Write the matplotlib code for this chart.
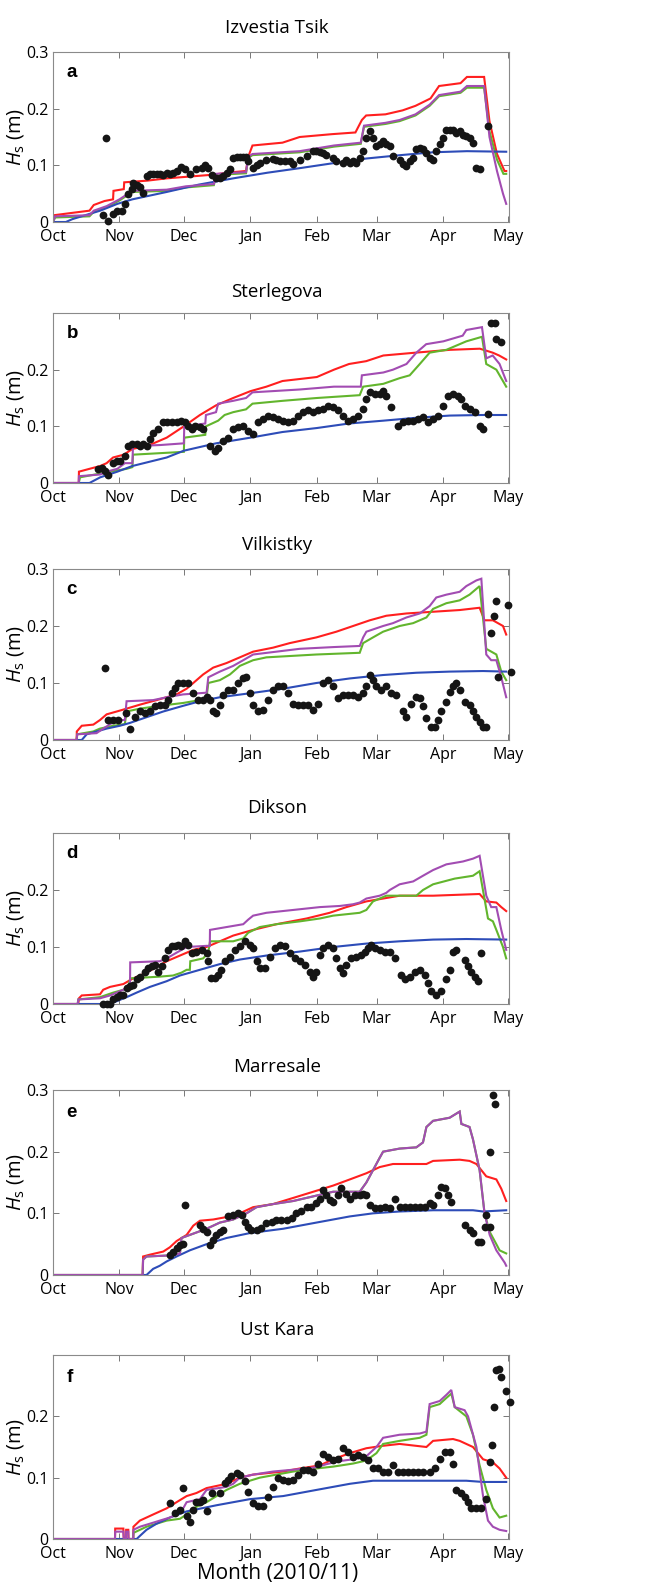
import matplotlib
matplotlib.use('Agg')
import matplotlib.pyplot as plt

plt.rcParams['font.family'] = ['Open Sans', 'DejaVu Sans']
plt.rcParams['mathtext.fontset'] = 'custom'
plt.rcParams['mathtext.rm'] = 'Open Sans'
plt.rcParams['mathtext.it'] = 'Open Sans:italic'

# x axis = days since 1 Oct 2010
months = ['Oct', 'Nov', 'Dec', 'Jan', 'Feb', 'Mar', 'Apr', 'May']
month_day = [0, 31, 61, 92, 123, 151, 182, 212]
stations = ['Izvestia Tsik', 'Sterlegova', 'Vilkistky', 'Dikson', 'Marresale', 'Ust Kara']
letters = ['a', 'b', 'c', 'd', 'e', 'f']

# ---------------- a: Izvestia Tsik ----------------
a_red = [(0.5, 0.012), (17, 0.02), (19, 0.03), (24, 0.037), (28, 0.04), (28.2, 0.055), (33, 0.058), (33.2, 0.07),
         (44, 0.073), (53, 0.077), (73, 0.083), (84, 0.088), (90, 0.09), (91, 0.115), (93, 0.135), (107, 0.14),
         (115, 0.15), (130, 0.155), (141, 0.158), (144, 0.18), (146, 0.188), (155, 0.19), (163, 0.197), (169, 0.205),
         (176, 0.218), (180, 0.24), (190, 0.245), (193, 0.256), (201, 0.256), (203.5, 0.178), (207, 0.12),
         (210.5, 0.09), (211.3, 0.09)]
a_green = [(0, 0.0), (1, 0.008), (17, 0.01), (19, 0.018), (25, 0.026), (31, 0.038), (37, 0.053), (53, 0.055),
           (62, 0.061), (75, 0.065), (76, 0.083), (90, 0.086), (91, 0.113), (93, 0.118), (115, 0.123), (123, 0.128),
           (131, 0.133), (143.5, 0.138), (145, 0.168), (155, 0.173), (161.6, 0.178), (169, 0.188), (175.6, 0.205),
           (180, 0.222), (190, 0.228), (193, 0.237), (201, 0.237), (203.5, 0.16), (207, 0.11), (210, 0.085),
           (211.3, 0.085)]
a_purple = [(0, 0.0), (1, 0.01), (17, 0.012), (19, 0.02), (25, 0.028), (31, 0.04), (37, 0.055), (53, 0.057),
            (62, 0.063), (75, 0.067), (76, 0.085), (90, 0.088), (91, 0.115), (93, 0.12), (115, 0.125), (123, 0.13),
            (131, 0.135), (143.5, 0.14), (145, 0.17), (155, 0.175), (161.6, 0.18), (169, 0.19), (175.6, 0.207),
            (180, 0.224), (190, 0.23), (193, 0.24), (201, 0.24), (203.5, 0.15), (207, 0.09), (209.8, 0.05),
            (211.3, 0.032)]
a_blue = [(0, 0.0), (6, 0.0), (9, 0.005), (22, 0.02), (30, 0.032), (37, 0.04), (53, 0.053), (68, 0.066),
          (84, 0.077), (100, 0.087), (115, 0.095), (131, 0.104), (146, 0.112), (162, 0.118), (177, 0.123),
          (193, 0.125), (211.3, 0.124)]
a_dot_day = [24.7, 23.4, 25.8, 28.1, 29.7, 32.0, 33.5, 35.1, 36.6, 37.4,
             39.0, 40.5, 42.1, 43.6, 45.2, 46.7, 48.3, 49.8, 51.4, 53.0,
             54.5, 56.0, 57.6, 59.9, 61.5, 63.8, 66.9, 69.3, 70.8, 72.4,
             73.9, 76.2, 77.8, 79.3, 80.9, 82.5, 84.0, 85.6, 87.1, 88.7,
             90.2, 91.0, 93.3, 94.9, 96.4, 99.5, 102.6, 104.2, 105.7, 108.0,
             110.4, 112.0, 115.0, 118.2, 121.3, 122.8, 124.4, 125.9, 127.5, 130.6,
             132.1, 135.2, 136.8, 138.4, 139.9, 141.5, 143.0, 144.6, 146.1, 147.7,
             149.2, 150.8, 152.3, 153.9, 155.4, 157.0, 158.5, 161.6, 163.2, 164.8,
             166.3, 167.9, 169.4, 171.0, 172.5, 174.1, 175.6, 177.2, 178.7, 180.3,
             181.8, 183.4, 184.9, 186.5, 188.0, 189.6, 191.1, 192.7, 194.2, 195.8,
             197.4, 198.9, 202.8]
a_dot_hs = [0.149, 0.012, 0.002, 0.015, 0.02, 0.02, 0.032, 0.05, 0.058, 0.068,
            0.066, 0.061, 0.052, 0.081, 0.085, 0.085, 0.084, 0.085, 0.083, 0.086,
            0.085, 0.086, 0.09, 0.097, 0.093, 0.085, 0.093, 0.095, 0.1, 0.096,
            0.083, 0.077, 0.077, 0.081, 0.087, 0.093, 0.113, 0.115, 0.115, 0.115,
            0.114, 0.108, 0.096, 0.1, 0.105, 0.11, 0.112, 0.109, 0.108, 0.107,
            0.108, 0.103, 0.109, 0.116, 0.125, 0.125, 0.124, 0.122, 0.118, 0.113,
            0.108, 0.105, 0.11, 0.105, 0.108, 0.104, 0.113, 0.125, 0.148, 0.16,
            0.148, 0.134, 0.137, 0.143, 0.137, 0.134, 0.116, 0.11, 0.102, 0.099,
            0.108, 0.113, 0.128, 0.131, 0.128, 0.122, 0.113, 0.109, 0.125, 0.137,
            0.148, 0.163, 0.163, 0.162, 0.157, 0.16, 0.154, 0.151, 0.148, 0.14,
            0.096, 0.093, 0.169]

# ---------------- b: Sterlegova ----------------
b_red = [(0, 0.0), (12, 0.0), (12.1, 0.02), (17, 0.025), (22, 0.03), (25, 0.035), (28, 0.045), (33, 0.05),
         (37, 0.06), (45, 0.067), (53, 0.08), (61, 0.1), (68.5, 0.12), (76, 0.137), (84, 0.15), (92, 0.162),
         (99.5, 0.17), (107, 0.18), (123, 0.187), (131, 0.2), (138, 0.21), (146, 0.215), (154, 0.225),
         (169, 0.23), (185, 0.235), (199, 0.237), (205, 0.23), (208, 0.225), (211.3, 0.218)]
b_green = [(0, 0.0), (12, 0.0), (12.6, 0.01), (26.6, 0.02), (34.3, 0.025), (37, 0.028), (37.3, 0.05), (61, 0.055),
           (61.2, 0.08), (71, 0.085), (71.3, 0.1), (77, 0.11), (80, 0.12), (84, 0.125), (90, 0.13), (93, 0.14),
           (107, 0.145), (123, 0.15), (143, 0.155), (144.6, 0.17), (154, 0.175), (161.6, 0.185), (166.3, 0.19),
           (171, 0.21), (175.6, 0.23), (183.4, 0.235), (192.7, 0.25), (200, 0.258), (202, 0.21), (206.7, 0.2),
           (211.3, 0.17)]
b_purple = [(0, 0.0), (12, 0.0), (12.1, 0.012), (22, 0.015), (25, 0.02), (30, 0.025), (33.5, 0.035), (37, 0.035),
            (37.3, 0.065), (50, 0.067), (61, 0.07), (61.2, 0.1), (71, 0.105), (71.3, 0.12), (76, 0.125),
            (77, 0.14), (84, 0.145), (90, 0.15), (93, 0.16), (115, 0.165), (131, 0.17), (143.5, 0.17),
            (144, 0.19), (154, 0.195), (158.5, 0.2), (164.8, 0.21), (169.4, 0.23), (174, 0.245), (182, 0.25),
            (191, 0.26), (192.7, 0.27), (200, 0.275), (202, 0.22), (205, 0.225), (208.2, 0.21), (211.3, 0.18)]
b_blue = [(0, 0.0), (17, 0.0), (22, 0.01), (30, 0.02), (37, 0.03), (53, 0.045), (61, 0.057), (76, 0.07),
          (92, 0.08), (107, 0.09), (123, 0.097), (138, 0.105), (154, 0.11), (169, 0.115), (185, 0.119),
          (200, 0.12), (211.3, 0.12)]
b_dot_day = [21.0, 22.7, 24.2, 25.8, 28.1, 29.7, 31.2, 33.5, 35.1, 36.6,
             39.0, 40.5, 42.1, 43.6, 45.2, 46.7, 49.0, 51.4, 53.0, 55.3,
             57.6, 59.9, 61.5, 63.0, 64.6, 66.1, 68.5, 70.0, 73.1, 75.5,
             77.0, 79.3, 81.7, 84.0, 86.3, 88.7, 91.0, 93.3, 95.7, 98.0,
             100.3, 102.6, 105.0, 107.3, 109.6, 112.0, 114.3, 116.6, 118.9, 121.3,
             123.6, 125.9, 128.3, 130.6, 132.9, 135.2, 137.6, 139.9, 142.2, 144.6,
             146.1, 147.7, 150.0, 152.3, 153.9, 155.4, 157.8, 160.9, 163.2, 165.5,
             167.9, 170.2, 172.5, 174.8, 177.2, 179.5, 181.8, 184.1, 186.5, 188.8,
             190.4, 191.9, 194.2, 196.6, 198.9, 200.5, 202.8, 204.3, 205.9, 206.7,
             208.7]
b_dot_hs = [0.024, 0.027, 0.021, 0.015, 0.036, 0.039, 0.039, 0.047, 0.065, 0.068,
            0.068, 0.065, 0.068, 0.065, 0.077, 0.089, 0.095, 0.107, 0.107, 0.107,
            0.107, 0.11, 0.107, 0.101, 0.095, 0.101, 0.098, 0.095, 0.065, 0.056,
            0.062, 0.074, 0.08, 0.095, 0.098, 0.101, 0.092, 0.086, 0.107, 0.113,
            0.119, 0.116, 0.113, 0.11, 0.107, 0.11, 0.119, 0.125, 0.128, 0.126,
            0.128, 0.131, 0.136, 0.134, 0.128, 0.119, 0.11, 0.113, 0.119, 0.131,
            0.148, 0.16, 0.157, 0.157, 0.163, 0.154, 0.134, 0.101, 0.107, 0.11,
            0.11, 0.113, 0.116, 0.107, 0.113, 0.119, 0.136, 0.154, 0.157, 0.154,
            0.148, 0.136, 0.131, 0.125, 0.101, 0.095, 0.122, 0.282, 0.282, 0.255,
            0.249]

# ---------------- c: Vilkistky ----------------
c_red = [(0, 0.0), (11, 0.0), (11.1, 0.015), (13.4, 0.025), (18.8, 0.027), (21.9, 0.035), (25, 0.045),
         (29.7, 0.05), (34.3, 0.055), (40.5, 0.062), (48.3, 0.07), (57.6, 0.08), (62.3, 0.09), (65.4, 0.1),
         (70, 0.115), (74.7, 0.127), (80.9, 0.135), (87.1, 0.145), (93.3, 0.155), (102.6, 0.162), (110.4, 0.17),
         (122.8, 0.18), (132.1, 0.19), (139.9, 0.2), (147.7, 0.21), (155.4, 0.218), (164.8, 0.222),
         (177.2, 0.225), (189.6, 0.228), (198.9, 0.232), (201.2, 0.21), (205.1, 0.21), (209.8, 0.2),
         (211.3, 0.185)]
c_green = [(0, 0.0), (11, 0.0), (11.3, 0.01), (18.8, 0.015), (21.9, 0.02), (28.1, 0.025), (33.5, 0.028),
           (34.3, 0.05), (40.5, 0.055), (49.8, 0.06), (60.7, 0.065), (68.5, 0.07), (71.6, 0.075), (72.4, 0.1),
           (77.8, 0.105), (82.5, 0.115), (87.1, 0.13), (93.3, 0.14), (99.5, 0.145), (122.8, 0.15), (143, 0.153),
           (144.6, 0.17), (149.2, 0.18), (153.9, 0.19), (161.6, 0.2), (167.9, 0.205), (174.1, 0.215),
           (177.2, 0.23), (183.4, 0.24), (189.6, 0.245), (194.2, 0.255), (198.9, 0.27), (202, 0.16),
           (206.7, 0.15), (209, 0.12), (211.3, 0.105)]
c_purple = [(0, 0.0), (11, 0.0), (11.3, 0.01), (20.3, 0.012), (23.4, 0.02), (29.7, 0.035), (33.5, 0.035),
            (34.3, 0.068), (46.7, 0.07), (53, 0.075), (60.7, 0.08), (71.6, 0.083), (72.4, 0.11), (77.8, 0.12),
            (84, 0.13), (88.7, 0.14), (93.3, 0.15), (104.2, 0.155), (115.1, 0.16), (130.6, 0.163), (143, 0.165),
            (144.6, 0.18), (146.1, 0.19), (153.9, 0.2), (158.5, 0.205), (164.8, 0.215), (171, 0.222),
            (175.6, 0.235), (178.7, 0.25), (183.4, 0.255), (189.6, 0.26), (192.7, 0.27), (197.4, 0.28),
            (199.7, 0.283), (202, 0.15), (204.3, 0.14), (206.7, 0.14), (209, 0.11), (211.3, 0.075)]
c_blue = [(0, 0.0), (13.4, 0.0), (15.7, 0.01), (25, 0.02), (31.2, 0.025), (35.9, 0.03), (43.6, 0.04),
          (51.4, 0.05), (60.7, 0.06), (68.5, 0.068), (77.8, 0.075), (91.8, 0.082), (107.3, 0.09),
          (122.8, 0.1), (138.4, 0.108), (153.9, 0.114), (169.4, 0.118), (185, 0.12), (200.5, 0.121),
          (211.3, 0.12)]
c_dot_day = [24.2, 25.8, 28.1, 30.4, 34.0, 35.9, 38.2, 40.5, 42.9, 45.2,
             47.5, 49.8, 52.2, 53.7, 55.3, 56.8, 58.4, 60.7, 63.0, 65.4,
             67.7, 70.0, 71.6, 73.1, 74.7, 76.2, 77.8, 79.3, 81.7, 84.0,
             86.3, 88.7, 90.2, 91.8, 93.3, 95.7, 98.0, 100.3, 102.6, 105.0,
             107.3, 109.6, 112.0, 114.3, 116.6, 118.9, 121.3, 123.6, 125.9, 128.3,
             130.6, 132.9, 135.2, 137.6, 139.9, 142.2, 144.6, 146.1, 147.7, 149.2,
             150.8, 153.1, 155.4, 157.8, 160.1, 163.2, 164.8, 167.1, 169.4, 171.0,
             172.5, 174.1, 176.4, 178.0, 179.5, 181.1, 183.4, 184.9, 186.5, 188.0,
             189.6, 191.9, 194.2, 195.8, 197.4, 198.9, 200.5, 202.0, 204.3, 205.4,
             206.7, 207.5, 212.1, 213.4]
c_dot_hs = [0.126, 0.035, 0.035, 0.035, 0.047, 0.019, 0.041, 0.05, 0.048, 0.05,
            0.059, 0.062, 0.062, 0.07, 0.082, 0.091, 0.1, 0.1, 0.1, 0.082,
            0.07, 0.07, 0.076, 0.07, 0.05, 0.048, 0.062, 0.079, 0.088, 0.088,
            0.1, 0.108, 0.111, 0.082, 0.062, 0.05, 0.053, 0.07, 0.088, 0.094,
            0.094, 0.082, 0.064, 0.062, 0.062, 0.062, 0.053, 0.064, 0.1, 0.105,
            0.094, 0.073, 0.079, 0.079, 0.079, 0.076, 0.082, 0.094, 0.114, 0.105,
            0.094, 0.088, 0.094, 0.082, 0.079, 0.05, 0.041, 0.064, 0.076, 0.073,
            0.059, 0.038, 0.023, 0.023, 0.035, 0.05, 0.067, 0.085, 0.094, 0.1,
            0.088, 0.067, 0.062, 0.05, 0.041, 0.032, 0.023, 0.023, 0.187, 0.217,
            0.243, 0.111, 0.237, 0.12]

# ---------------- d: Dikson ----------------
d_red = [(0, 0.0), (11.8, 0.0), (12.1, 0.01), (13.4, 0.015), (21.9, 0.017), (23.4, 0.025), (26.6, 0.03),
         (32.8, 0.035), (37.4, 0.045), (43.6, 0.055), (48.3, 0.065), (53, 0.075), (59.2, 0.085), (65.4, 0.095),
         (71.6, 0.1), (77.8, 0.11), (84, 0.12), (93.3, 0.13), (104.2, 0.14), (118.2, 0.15), (129, 0.16),
         (136.8, 0.17), (146.1, 0.18), (153.9, 0.185), (161.6, 0.19), (177.2, 0.19), (198.9, 0.193),
         (202, 0.18), (206.7, 0.178), (209, 0.17), (211.3, 0.163)]
d_green = [(0, 0.0), (11.5, 0.0), (11.8, 0.008), (21.9, 0.012), (28.1, 0.02), (32.8, 0.025), (35.1, 0.03),
           (36, 0.045), (49.8, 0.048), (56, 0.05), (59.9, 0.055), (62.3, 0.06), (63.8, 0.06), (64, 0.075),
           (70, 0.08), (72.4, 0.09), (73.2, 0.11), (84, 0.11), (88.7, 0.115), (91, 0.125), (96.4, 0.135),
           (104.2, 0.14), (115.1, 0.145), (124.4, 0.15), (130.6, 0.155), (143, 0.16), (146.1, 0.165),
           (149.2, 0.18), (155.4, 0.19), (169.4, 0.19), (172.5, 0.2), (177.2, 0.21), (187.3, 0.22),
           (195.8, 0.225), (198.9, 0.233), (202.8, 0.15), (205.1, 0.145), (206.7, 0.13), (209.8, 0.1),
           (211.3, 0.08)]
d_purple = [(0, 0.0), (11.5, 0.0), (11.8, 0.008), (21.9, 0.01), (26.6, 0.015), (29.7, 0.02), (32.8, 0.025),
            (34.3, 0.03), (35.9, 0.03), (36, 0.073), (49.8, 0.075), (53, 0.08), (57.6, 0.09), (62.3, 0.1),
            (71.6, 0.102), (73.1, 0.102), (73.2, 0.13), (80.9, 0.135), (88.7, 0.14), (91, 0.148), (93.3, 0.155),
            (99.5, 0.16), (112, 0.165), (124.4, 0.17), (133.7, 0.172), (139.9, 0.175), (143, 0.178),
            (146.1, 0.185), (152.3, 0.19), (155.4, 0.195), (157, 0.2), (161.6, 0.21), (167.9, 0.215),
            (172.5, 0.225), (177.2, 0.235), (183.4, 0.245), (191.1, 0.25), (195.8, 0.255), (198.9, 0.26),
            (202, 0.19), (204.3, 0.17), (206.7, 0.17), (209, 0.13), (211.3, 0.095)]
d_blue = [(0, 0.0), (26.6, 0.0), (29.7, 0.005), (34.3, 0.012), (39, 0.02), (45.2, 0.03), (53, 0.04),
          (59.2, 0.05), (68.5, 0.06), (77.8, 0.07), (87.1, 0.078), (99.5, 0.085), (115.1, 0.092),
          (130.6, 0.1), (146.1, 0.106), (161.6, 0.11), (177.2, 0.113), (192.7, 0.114), (211.3, 0.113)]
d_dot_day = [23.4, 25.0, 26.6, 28.1, 29.7, 31.2, 32.8, 34.3, 35.9, 37.4,
             39.0, 40.5, 42.9, 44.4, 46.0, 47.5, 49.1, 50.6, 52.2, 53.7,
             55.3, 56.8, 58.4, 59.9, 61.5, 63.0, 64.6, 66.9, 69.3, 71.6,
             72.4, 73.8, 75.3, 76.9, 78.4, 80.0, 82.5, 84.8, 87.1, 89.4,
             91.8, 93.3, 94.9, 96.4, 98.8, 101.1, 103.4, 105.7, 108.1, 110.4,
             112.7, 115.1, 117.4, 119.7, 121.3, 122.8, 124.4, 125.9, 128.3, 130.6,
             132.1, 133.7, 135.2, 136.8, 139.1, 141.5, 143.8, 145.3, 146.9, 148.4,
             150.0, 152.3, 154.7, 157.0, 159.3, 162.4, 164.0, 166.3, 168.6, 171.0,
             173.3, 174.8, 176.4, 178.7, 181.1, 183.4, 184.9, 186.5, 188.0, 191.9,
             193.5, 195.0, 196.6, 198.1, 199.7]
d_dot_hs = [0.0, 0.0, 0.0, 0.008, 0.013, 0.016, 0.016, 0.028, 0.031, 0.034,
            0.044, 0.048, 0.057, 0.063, 0.066, 0.069, 0.057, 0.066, 0.08, 0.095,
            0.101, 0.101, 0.104, 0.101, 0.11, 0.104, 0.089, 0.092, 0.095, 0.089,
            0.075, 0.045, 0.045, 0.051, 0.06, 0.075, 0.083, 0.095, 0.101, 0.11,
            0.104, 0.098, 0.075, 0.064, 0.064, 0.083, 0.098, 0.104, 0.101, 0.089,
            0.08, 0.075, 0.069, 0.057, 0.048, 0.057, 0.086, 0.098, 0.104, 0.098,
            0.08, 0.063, 0.054, 0.069, 0.08, 0.083, 0.086, 0.092, 0.098, 0.104,
            0.098, 0.095, 0.092, 0.092, 0.08, 0.051, 0.043, 0.048, 0.057, 0.06,
            0.051, 0.037, 0.022, 0.016, 0.022, 0.043, 0.06, 0.092, 0.095, 0.078,
            0.066, 0.057, 0.048, 0.04, 0.089]

# ---------------- e: Marresale ----------------
e_red = [(0, 0.0), (41.8, 0.0), (42, 0.03), (45.2, 0.033), (51.4, 0.038), (54.5, 0.045), (57.6, 0.055),
         (62.3, 0.065), (65.4, 0.08), (68.5, 0.088), (74.7, 0.09), (82.5, 0.095), (87.1, 0.1), (93.3, 0.11),
         (102.6, 0.115), (112, 0.125), (121.3, 0.135), (130.6, 0.145), (138.4, 0.155), (146.1, 0.165),
         (152.3, 0.175), (158.5, 0.18), (174.1, 0.18), (177.2, 0.185), (189.6, 0.187), (194.2, 0.185),
         (197.4, 0.18), (202, 0.16), (206.7, 0.155), (209, 0.14), (211.3, 0.12)]
e_green = [(0, 0.0), (41.8, 0.0), (42, 0.025), (43.6, 0.03), (56, 0.032), (59.2, 0.035), (59.9, 0.06),
           (63.8, 0.065), (71.6, 0.075), (77.8, 0.085), (84, 0.09), (90.2, 0.1), (94.9, 0.11), (102.6, 0.115),
           (112, 0.12), (118.2, 0.125), (124.4, 0.13), (130.6, 0.135), (143, 0.135), (146.1, 0.15),
           (149.2, 0.17), (152.3, 0.19), (153.9, 0.2), (161.6, 0.205), (169.4, 0.207), (172.5, 0.215),
           (174.1, 0.24), (177.2, 0.25), (184.9, 0.255), (189.6, 0.265), (190.4, 0.245), (194.2, 0.24),
           (195.8, 0.22), (198.9, 0.17), (201.2, 0.1), (203.6, 0.07), (206.7, 0.05), (208.2, 0.04),
           (211.3, 0.035)]
e_purple = [(0, 0.0), (41.8, 0.0), (42, 0.025), (43.6, 0.03), (56, 0.032), (59.2, 0.035), (59.9, 0.06),
            (63.8, 0.065), (71.6, 0.075), (77.8, 0.085), (84, 0.09), (90.2, 0.1), (94.9, 0.11), (102.6, 0.115),
            (112, 0.12), (118.2, 0.125), (124.4, 0.13), (130.6, 0.135), (143, 0.135), (146.1, 0.15),
            (149.2, 0.17), (152.3, 0.19), (153.9, 0.2), (161.6, 0.205), (169.4, 0.207), (172.5, 0.215),
            (174.1, 0.24), (177.2, 0.25), (184.9, 0.255), (189.6, 0.265), (190.4, 0.245), (194.2, 0.24),
            (195.8, 0.22), (198.9, 0.17), (201.2, 0.1), (203.6, 0.065), (206.7, 0.04), (210.6, 0.02),
            (211.3, 0.015)]
e_blue = [(0, 0.0), (43.6, 0.0), (46.7, 0.01), (49.8, 0.015), (53, 0.022), (57.6, 0.03), (63.8, 0.04),
          (71.6, 0.05), (80.9, 0.06), (91.8, 0.068), (107.3, 0.075), (122.8, 0.085), (138.4, 0.095),
          (149.2, 0.1), (161.6, 0.103), (177.2, 0.105), (195.8, 0.105), (200.5, 0.103), (211.3, 0.105)]
e_dot_day = [54.5, 56.0, 57.6, 59.2, 60.7, 61.5, 68.5, 70.0, 71.6, 73.1,
             74.7, 76.2, 77.8, 79.3, 81.7, 84.0, 86.3, 87.9, 89.4, 91.0,
             92.5, 94.9, 97.2, 99.5, 101.9, 104.2, 106.5, 108.9, 111.2, 113.5,
             115.8, 118.2, 120.5, 122.8, 124.4, 125.9, 127.5, 129.0, 130.6, 132.9,
             134.5, 136.8, 138.4, 140.7, 143.0, 144.6, 146.1, 147.7, 150.0, 152.3,
             154.7, 157.0, 159.3, 161.6, 164.0, 166.3, 168.6, 171.0, 173.3, 175.6,
             177.2, 179.5, 181.1, 182.6, 184.2, 185.7, 191.9, 194.2, 195.8, 198.1,
             199.7, 201.2, 202.0, 203.6, 203.6, 205.1, 206.2]
e_dot_hs = [0.032, 0.038, 0.043, 0.049, 0.051, 0.114, 0.081, 0.075, 0.07, 0.049,
            0.057, 0.065, 0.07, 0.073, 0.095, 0.097, 0.1, 0.097, 0.086, 0.078,
            0.073, 0.073, 0.076, 0.084, 0.086, 0.089, 0.089, 0.089, 0.092, 0.1,
            0.103, 0.111, 0.111, 0.116, 0.124, 0.138, 0.13, 0.122, 0.119, 0.13,
            0.141, 0.132, 0.124, 0.13, 0.13, 0.132, 0.13, 0.114, 0.108, 0.108,
            0.111, 0.108, 0.124, 0.111, 0.111, 0.111, 0.111, 0.111, 0.111, 0.116,
            0.114, 0.13, 0.143, 0.141, 0.13, 0.119, 0.081, 0.073, 0.068, 0.054,
            0.054, 0.078, 0.097, 0.078, 0.2, 0.292, 0.278]

# ---------------- f: Ust Kara ----------------
f_red = [(0, 0.0), (28.9, 0.0), (29, 0.017), (32.8, 0.017), (33, 0.0), (34, 0.0), (34.1, 0.015), (35.1, 0.015),
         (35.2, 0.0), (37.4, 0.0), (37.5, 0.02), (40.5, 0.03), (46.7, 0.04), (53, 0.05), (57.6, 0.06),
         (62.3, 0.07), (66.9, 0.075), (71.6, 0.083), (80.9, 0.09), (87.1, 0.1), (93.3, 0.105), (107.3, 0.11),
         (115.1, 0.115), (124.4, 0.12), (130.6, 0.13), (138.4, 0.14), (146.1, 0.148), (153.9, 0.152),
         (161.6, 0.155), (174.1, 0.15), (177.2, 0.16), (186.5, 0.163), (189.6, 0.16), (195.8, 0.15),
         (200.5, 0.13), (205.1, 0.125), (208.2, 0.115), (211.3, 0.1)]
f_green = [(0, 0.0), (37.4, 0.0), (37.5, 0.01), (43.6, 0.02), (48.3, 0.025), (53, 0.03), (59.2, 0.033),
           (62.3, 0.04), (65.4, 0.05), (71.6, 0.06), (80.9, 0.08), (87.1, 0.09), (96.4, 0.1), (104.2, 0.105),
           (112, 0.11), (122.8, 0.115), (130.6, 0.118), (139.9, 0.123), (146.1, 0.128), (150.8, 0.14),
           (153.9, 0.155), (161.6, 0.16), (171, 0.165), (174.1, 0.17), (175.6, 0.215), (180.3, 0.22),
           (183.4, 0.23), (185.7, 0.237), (187.3, 0.215), (192.7, 0.2), (195.8, 0.17), (198.9, 0.12),
           (202, 0.08), (205.1, 0.05), (208.2, 0.035), (211.3, 0.038)]
f_purple = [(0, 0.0), (28.9, 0.0), (29, 0.012), (32.8, 0.012), (33, 0.0), (34, 0.0), (34.1, 0.012),
            (35.1, 0.012), (35.2, 0.0), (37.4, 0.0), (37.5, 0.015), (40.5, 0.02), (45.2, 0.025), (49.8, 0.03),
            (54.5, 0.035), (57.6, 0.04), (59.9, 0.045), (62.3, 0.06), (68.5, 0.065), (71.6, 0.08), (80.9, 0.085),
            (84, 0.09), (87.1, 0.1), (93.3, 0.105), (102.6, 0.11), (112, 0.113), (122.8, 0.117), (127.5, 0.122),
            (133.7, 0.127), (139.9, 0.13), (146.1, 0.135), (150.8, 0.15), (153.9, 0.165), (161.6, 0.17),
            (171, 0.172), (174.1, 0.175), (175.6, 0.22), (180.3, 0.225), (183.4, 0.235), (185.7, 0.243),
            (187.3, 0.215), (191.9, 0.21), (193.5, 0.2), (197.4, 0.15), (200.5, 0.07), (202.8, 0.03),
            (205.1, 0.02), (208.2, 0.015), (211.3, 0.013)]
f_blue = [(0, 0.0), (39, 0.0), (40.5, 0.005), (43.6, 0.015), (48.3, 0.025), (54.5, 0.035), (62.3, 0.045),
          (76.2, 0.055), (91.8, 0.065), (107.3, 0.07), (122.8, 0.08), (138.4, 0.09), (149.2, 0.095),
          (192.7, 0.095), (200.5, 0.093), (211.3, 0.093)]
f_dot_day = [54.5, 56.8, 59.2, 60.4, 62.3, 63.8, 65.4, 66.9, 68.5, 70.0,
             71.6, 73.9, 77.8, 80.1, 81.7, 83.2, 85.6, 87.1, 89.4, 91.0,
             93.3, 95.7, 98.0, 100.3, 102.6, 105.0, 107.3, 109.6, 112.0, 114.3,
             116.6, 118.9, 121.3, 123.6, 125.9, 128.3, 130.6, 132.9, 135.2, 137.6,
             139.9, 142.2, 144.6, 146.9, 149.2, 151.6, 153.9, 156.2, 158.5, 160.9,
             163.2, 165.5, 167.9, 170.2, 172.5, 175.6, 177.9, 180.3, 182.6, 184.9,
             186.5, 188.0, 190.4, 191.9, 193.5, 195.0, 197.4, 199.7, 202.0, 203.6,
             204.8, 205.6, 206.7, 207.9, 209.0, 211.3, 212.9]
f_dot_hs = [0.058, 0.042, 0.048, 0.083, 0.037, 0.027, 0.048, 0.061, 0.061, 0.064,
            0.045, 0.075, 0.075, 0.091, 0.096, 0.102, 0.107, 0.104, 0.094, 0.077,
            0.058, 0.053, 0.053, 0.069, 0.085, 0.099, 0.096, 0.094, 0.096, 0.104,
            0.112, 0.112, 0.11, 0.123, 0.139, 0.134, 0.129, 0.131, 0.148, 0.142,
            0.134, 0.137, 0.134, 0.129, 0.115, 0.115, 0.11, 0.11, 0.121, 0.11,
            0.11, 0.11, 0.11, 0.11, 0.11, 0.11, 0.115, 0.131, 0.142, 0.142,
            0.123, 0.08, 0.075, 0.069, 0.061, 0.05, 0.05, 0.05, 0.066, 0.126,
            0.153, 0.215, 0.275, 0.277, 0.264, 0.242, 0.223]

panels = [
    (a_red, a_green, a_blue, a_purple, a_dot_day, a_dot_hs),
    (b_red, b_green, b_blue, b_purple, b_dot_day, b_dot_hs),
    (c_red, c_green, c_blue, c_purple, c_dot_day, c_dot_hs),
    (d_red, d_green, d_blue, d_purple, d_dot_day, d_dot_hs),
    (e_red, e_green, e_blue, e_purple, e_dot_day, e_dot_hs),
    (f_red, f_green, f_blue, f_purple, f_dot_day, f_dot_hs),
]
yticks = [[0, 0.1, 0.2, 0.3], [0, 0.1, 0.2], [0, 0.1, 0.2, 0.3],
          [0, 0.1, 0.2], [0, 0.1, 0.2, 0.3], [0, 0.1, 0.2]]

# layout in pixels of the 658 x 1587 figure: (top, bottom) of each axes box
W, H = 658, 1587
boxes = [(52, 222), (313, 483), (569, 740), (833, 1004), (1090, 1275), (1355, 1539)]
title_y = [28, 292, 545, 808, 1067, 1330]
line_colors = ['#ff1f1f', '#62b52d', '#2d4cb8', '#a24cb2']

fig = plt.figure(figsize=(W / 100, H / 100), dpi=100)

for i, (red, green, blue, purple, dday, dhs) in enumerate(panels):
    top, bot = boxes[i]
    ax = fig.add_axes([53 / W, 1 - bot / H, 456 / W, (bot - top) / H])
    for series, col in zip((red, green, blue, purple), line_colors):
        xs, ys = zip(*series)
        ax.plot(xs, ys, color=col, lw=1.5, solid_joinstyle='miter')
    ax.plot(dday, dhs, 'o', color='#151515', ms=5.6, mec='none', clip_on=False, zorder=5)

    ax.set_xlim(0, 212.6)
    ax.set_ylim(0, 0.3)
    ax.set_xticks(month_day)
    ax.set_xticklabels(months)
    ax.set_yticks(yticks[i])
    ax.set_yticklabels(['0' if v == 0 else f'{v:.1f}' for v in yticks[i]])
    ax.tick_params(direction='in', top=True, right=True, length=4, width=0.7,
                   color='#777777', labelsize=11.5)
    ax.tick_params(axis='x', pad=5)
    ax.tick_params(axis='y', pad=3)
    for s in ax.spines.values():
        s.set_color('#8a8a8a')
        s.set_linewidth(0.8)
    ax.set_ylabel(r'$H_{\rm s}$ (m)', fontsize=14.5)
    ax.yaxis.set_label_coords(-0.06, 0.5)
    ax.text(0.03, 0.88, letters[i], transform=ax.transAxes, fontsize=13.5,
            fontweight='bold', family='Liberation Sans', va='center', ha='left')
    fig.text(277 / W, 1 - title_y[i] / H, stations[i], ha='center', va='center', fontsize=13.5)

fig.text(278 / W, 1 - 1573 / H, 'Month (2010/11)', ha='center', va='center', fontsize=15)

fig.savefig('out.png', dpi=100, facecolor='white')
